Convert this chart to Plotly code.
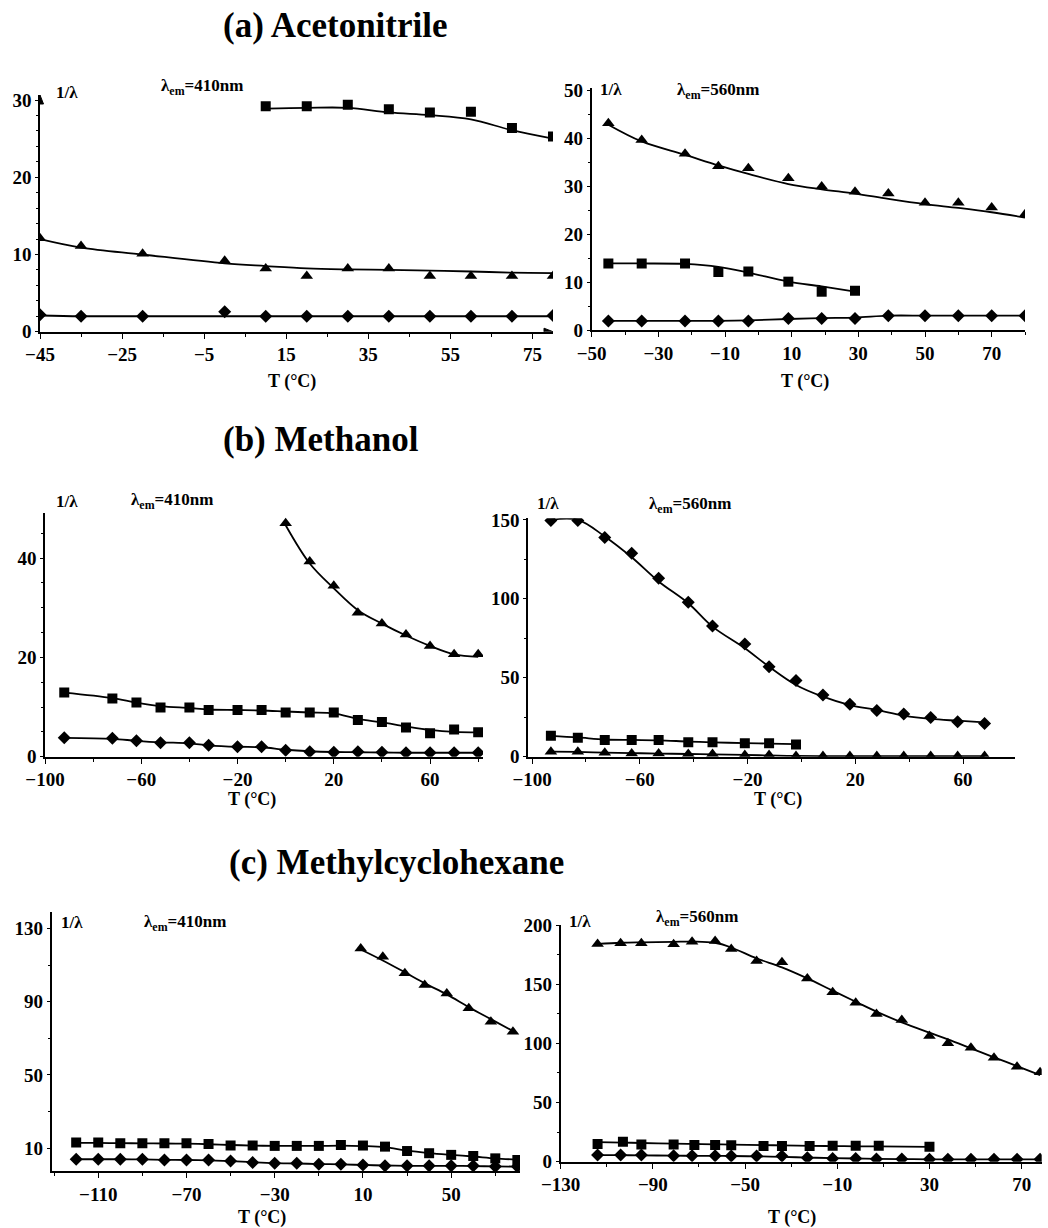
import plotly.graph_objects as go

# ---------------- DATA ----------------
# (a) Acetonitrile, lambda_em = 410 nm
AL_sq_x = [10, 20, 30, 40, 50, 60, 70, 80]
AL_sq_y = [29.2, 29.2, 29.4, 28.8, 28.4, 28.5, 26.4, 25.3]
AL_sq_fit = [28.9, 29.0, 29.0, 28.4, 28.05, 27.5, 26.1, 25.0]
AL_x = [-45, -35, -20, 0, 10, 20, 30, 40, 50, 60, 70, 80]
AL_tri_y = [12.1, 11.1, 10.1, 9.2, 8.2, 7.2, 8.2, 8.2, 7.2, 7.2, 7.2, 7.2]
AL_tri_fit = [12.0, 10.9, 10.0, 8.85, 8.5, 8.2, 8.07, 8.0, 7.9, 7.8, 7.65, 7.6]
AL_dia_y = [2.2, 2.0, 2.0, 2.6, 2.0, 2.0, 2.0, 2.0, 2.0, 2.0, 2.0, 2.1]
AL_dia_fit = [2.1, 2.0, 2.0, 2.0, 2.0, 2.0, 2.0, 2.0, 2.0, 2.0, 2.0, 2.0]

# (a) Acetonitrile, lambda_em = 560 nm
AR_x = [-45, -35, -22, -12, -3, 9, 19, 29, 39, 50, 60, 70, 80]
AR_tri_y = [43.2, 39.7, 36.8, 34.2, 33.8, 31.7, 30.0, 28.9, 28.5, 26.6, 26.6, 25.6, 24.2]
AR_tri_fit = [42.9, 39.4, 36.6, 34.4, 32.6, 30.5, 29.4, 28.5, 27.4, 26.3, 25.5, 24.6, 23.5]
AR_sq_x = [-45, -35, -22, -12, -3, 9, 19, 29]
AR_sq_y = [13.9, 13.9, 13.9, 12.1, 12.2, 10.1, 8.0, 8.2]
AR_sq_fit = [13.9, 13.9, 13.8, 13.2, 12.0, 10.1, 9.1, 8.0]
AR_dia_y = [1.9, 1.9, 1.9, 1.9, 1.9, 2.4, 2.4, 2.4, 3.0, 3.0, 3.0, 3.0, 3.0]
AR_dia_fit = [1.9, 1.9, 1.9, 1.9, 2.0, 2.3, 2.5, 2.6, 3.0, 3.0, 3.0, 3.0, 3.0]

# (b) Methanol, lambda_em = 410 nm
BL_tri_x = [0, 10, 20, 30, 40, 50, 60, 70, 80]
BL_tri_y = [47.0, 39.3, 34.4, 29.0, 26.8, 24.6, 22.3, 20.6, 20.6]
BL_tri_fit = [46.6, 38.9, 33.9, 29.5, 26.8, 24.4, 22.3, 20.6, 20.1]
BL_x = [-92, -72, -62, -52, -40, -32, -20, -10, 0, 10, 20, 30, 40, 50, 60, 70, 80]
BL_sq_y = [12.9, 11.7, 10.9, 9.9, 9.9, 9.4, 9.4, 9.4, 8.9, 8.9, 8.9, 7.4, 7.0, 5.9, 4.7, 5.5, 4.9]
BL_sq_fit = [12.9, 11.8, 10.9, 10.2, 9.8, 9.5, 9.4, 9.3, 9.1, 8.9, 8.7, 7.6, 6.9, 6.1, 5.4, 5.0, 4.9]
BL_dia_y = [3.8, 3.7, 3.2, 2.8, 2.8, 2.3, 2.0, 2.0, 1.3, 1.0, 0.9, 1.0, 0.9, 0.8, 0.8, 0.8, 0.8]
BL_dia_fit = [3.8, 3.6, 3.2, 2.9, 2.7, 2.3, 2.0, 1.9, 1.4, 1.1, 0.95, 0.9, 0.85, 0.8, 0.8, 0.8, 0.8]

# (b) Methanol, lambda_em = 560 nm
BR_x = [-93, -83, -73, -63, -53, -42, -33, -21, -12, -2, 8, 18, 28, 38, 48, 58, 68]
BR_dia_y = [149.6, 149.6, 138.8, 128.9, 113.0, 97.8, 82.8, 71.4, 57.0, 48.2, 39.1, 33.2, 29.2, 27.0, 24.9, 22.2, 21.1]
BR_dia_fit = [150.0, 150.0, 139.5, 126.3, 111.0, 97.2, 82.4, 68.7, 57.0, 45.4, 38.0, 32.7, 29.6, 26.0, 23.9, 22.8, 21.8]
BR_sq_x = [-93, -83, -73, -63, -53, -42, -33, -21, -12, -2]
BR_sq_y = [13.3, 12.0, 10.6, 10.6, 10.6, 9.1, 9.1, 8.5, 8.5, 7.8]
BR_sq_fit = [13.2, 12.2, 10.9, 10.6, 10.4, 9.6, 9.1, 8.6, 8.3, 8.0]
BR_tri_y = [3.2, 3.2, 2.5, 2.1, 2.1, 1.7, 1.7, 1.0, 1.0, 0.4, 0.4, 0.4, 0.4, 0.4, 0.4, 0.4, 0.4]
BR_tri_fit = [3.2, 3.0, 2.6, 2.3, 2.0, 1.7, 1.5, 1.1, 0.8, 0.5, 0.4, 0.4, 0.4, 0.4, 0.4, 0.4, 0.4]

# (c) Methylcyclohexane, lambda_em = 410 nm
CL_tri_x = [9, 19, 29, 38, 48, 58, 68, 78]
CL_tri_y = [119.0, 114.5, 105.5, 99.1, 94.5, 86.4, 79.1, 73.6]
CL_tri_fit = [118.5, 112.5, 106.0, 100.0, 94.0, 87.0, 80.5, 74.0]
CL_x = [-120, -110, -100, -90, -80, -70, -60, -50, -40, -30, -20, -10, 0, 10, 20, 30, 40, 50, 60, 70, 80]
CL_sq_y = [13.1, 13.1, 12.7, 12.7, 12.7, 12.7, 12.4, 11.5, 11.5, 11.3, 11.3, 11.3, 11.8, 11.5, 10.9, 8.5, 7.3, 6.4, 5.8, 4.5, 3.6]
CL_sq_fit = [13.0, 12.9, 12.8, 12.7, 12.6, 12.5, 12.2, 11.8, 11.5, 11.3, 11.3, 11.3, 11.4, 11.2, 10.6, 8.7, 7.4, 6.4, 5.5, 4.5, 3.8]
CL_dia_y = [4.0, 4.0, 4.0, 4.0, 3.6, 3.6, 3.6, 3.1, 2.2, 1.8, 1.8, 1.3, 1.3, 0.9, 0.4, 0.4, 0.4, 0.4, 0.4, 0.0, 0.0]
CL_dia_fit = [4.0, 4.0, 4.0, 3.9, 3.7, 3.6, 3.4, 3.0, 2.4, 1.9, 1.7, 1.4, 1.2, 0.9, 0.6, 0.4, 0.4, 0.4, 0.3, 0.1, 0.0]

# (c) Methylcyclohexane, lambda_em = 560 nm
CR_x = [-114, -104, -95, -81, -73, -63, -56, -45, -34, -23, -12, -2, 7, 18, 30, 38, 48, 58, 68, 78]
CR_tri_y = [184.0, 184.5, 184.5, 183.7, 185.9, 186.5, 179.7, 169.6, 168.5, 154.9, 143.1, 134.4, 124.8, 119.7, 106.2, 100.0, 96.3, 87.9, 80.3, 75.5]
CR_tri_fit = [184.0, 185.0, 185.4, 185.8, 186.0, 185.0, 181.0, 171.8, 164.2, 154.9, 144.5, 135.2, 126.8, 117.7, 109.0, 103.4, 95.8, 88.2, 80.8, 73.2]
CR_sq_x = [-114, -103, -95, -81, -72, -63, -56, -42, -34, -22, -12, -2, 8, 30]
CR_sq_y = [14.9, 16.9, 14.6, 14.6, 14.1, 14.1, 13.8, 13.2, 13.2, 13.2, 13.5, 13.5, 13.5, 12.7]
CR_sq_fit = [16.5, 16.2, 15.8, 15.3, 15.0, 14.7, 14.5, 14.0, 13.8, 13.4, 13.2, 13.0, 12.9, 12.5]
CR_dia_y = [5.6, 5.6, 5.6, 5.0, 5.0, 5.0, 4.8, 4.8, 4.8, 3.4, 2.8, 2.8, 2.3, 2.3, 2.0, 2.0, 2.0, 2.0, 2.0, 2.0]
CR_dia_fit = [5.6, 5.5, 5.4, 5.1, 5.0, 4.9, 4.8, 4.5, 4.1, 3.5, 3.0, 2.7, 2.4, 2.2, 2.0, 2.0, 2.0, 2.0, 2.0, 2.0]

TITLES = ["(a) Acetonitrile", "(b) Methanol", "(c) Methylcyclohexane"]
EM_LABELS = ["<b>λ<sub>em</sub>=410nm</b>", "<b>λ<sub>em</sub>=560nm</b>"]

# ---------------- LAYOUT / STYLE ----------------
W, H = 1048, 1228
FONT = "Liberation Serif"

def dx(px):
    return px / W

def dy(px):
    return 1 - px / H

panels = [
    dict(xd=(40, 553), yd=(95, 331.7), xr=[-45, 80], yr=[0, 30.66],
         xt0=-45, xdt=20, xm=10, yt0=0, ydt=10, ym=2,
         series=[(AL_sq_x, AL_sq_y, AL_sq_fit, "square"),
                 (AL_x, AL_tri_y, AL_tri_fit, "triangle-up"),
                 (AL_x, AL_dia_y, AL_dia_fit, "diamond")],
         lab1=(67, 92), lab2=(202, 87), em=0),
    dict(xd=(591.7, 1025), yd=(88.3, 330), xr=[-50, 80], yr=[0, 50.5],
         xt0=-50, xdt=20, xm=10, yt0=0, ydt=10, ym=5,
         series=[(AR_x, AR_tri_y, AR_tri_fit, "triangle-up"),
                 (AR_sq_x, AR_sq_y, AR_sq_fit, "square"),
                 (AR_x, AR_dia_y, AR_dia_fit, "diamond")],
         lab1=(611, 89), lab2=(718, 91), em=1),
    dict(xd=(45, 483), yd=(513.3, 756.7), xr=[-100, 82], yr=[0, 49],
         xt0=-100, xdt=40, xm=20, yt0=0, ydt=20, ym=5,
         series=[(BL_tri_x, BL_tri_y, BL_tri_fit, "triangle-up"),
                 (BL_x, BL_sq_y, BL_sq_fit, "square"),
                 (BL_x, BL_dia_y, BL_dia_fit, "diamond")],
         lab1=(67, 502), lab2=(172, 501), em=0),
    dict(xd=(528, 1015), yd=(518.3, 756.7), xr=[-101.5, 79.3], yr=[0, 151],
         xt0=-100, xdt=40, xm=20, yt0=0, ydt=50, ym=25,
         series=[(BR_x, BR_dia_y, BR_dia_fit, "diamond"),
                 (BR_sq_x, BR_sq_y, BR_sq_fit, "square"),
                 (BR_x, BR_tri_y, BR_tri_fit, "triangle-up")],
         lab1=(548, 503), lab2=(690, 505), em=1),
    dict(xd=(51.7, 520), yd=(911.7, 1171), xr=[-131.1, 81.2], yr=[-2.4, 139.1],
         xt0=-110, xdt=40, xm=20, yt0=10, ydt=40, ym=20,
         series=[(CL_tri_x, CL_tri_y, CL_tri_fit, "triangle-up"),
                 (CL_x, CL_sq_y, CL_sq_fit, "square"),
                 (CL_x, CL_dia_y, CL_dia_fit, "diamond")],
         lab1=(72, 922), lab2=(185, 923), em=0),
    dict(xd=(560.7, 1041.7), yd=(925, 1161.7), xr=[-130, 78.7], yr=[0, 200],
         xt0=-130, xdt=40, xm=20, yt0=0, ydt=50, ym=25,
         series=[(CR_x, CR_tri_y, CR_tri_fit, "triangle-up"),
                 (CR_sq_x, CR_sq_y, CR_sq_fit, "square"),
                 (CR_x, CR_dia_y, CR_dia_fit, "diamond")],
         lab1=(580, 921), lab2=(697, 918), em=1),
]

title_pos = [(335, 25), (321, 440), (396, 862)]
xtitle_pos = [(292, 381), (805, 381), (252, 799), (778, 799), (262, 1217), (792, 1217)]

marker_size = {"square": 10, "triangle-up": 11, "diamond": 10}

fig = go.Figure()
layout = {}
annotations = []

for i, p in enumerate(panels):
    k = "" if i == 0 else str(i + 1)
    xa, ya = "x" + k, "y" + k
    for (xs, ys, fit, sym) in p["series"]:
        fig.add_trace(go.Scatter(x=xs, y=fit, xaxis=xa, yaxis=ya, mode="lines",
                                 line=dict(color="black", width=1.8, shape="spline", smoothing=1.0),
                                 showlegend=False, hoverinfo="skip"))
        fig.add_trace(go.Scatter(x=xs, y=ys, xaxis=xa, yaxis=ya, mode="markers",
                                 marker=dict(symbol=sym, color="black", size=marker_size[sym]),
                                 showlegend=False))
    tf = dict(family=FONT, size=19, color="black", weight=700)
    layout["xaxis" + k] = dict(
        domain=[dx(p["xd"][0]), dx(p["xd"][1])], range=p["xr"], anchor=ya, automargin=False,
        showline=True, linecolor="black", linewidth=1.6, showgrid=False, zeroline=False,
        ticks="outside", ticklen=5, tickwidth=1.3, tickcolor="black",
        tick0=p["xt0"], dtick=p["xdt"], tickfont=tf, tickprefix="<b>", ticksuffix="</b>",
        minor=dict(ticks="outside", ticklen=3, tickwidth=1, tickcolor="black",
                   tick0=p["xt0"], dtick=p["xm"], showgrid=False),
    )
    layout["yaxis" + k] = dict(
        domain=[dy(p["yd"][1]), dy(p["yd"][0])], range=p["yr"], anchor=xa, automargin=False,
        showline=True, linecolor="black", linewidth=1.6, showgrid=False, zeroline=False,
        ticks="outside", ticklen=3, tickwidth=1.3, tickcolor="black",
        tick0=p["yt0"], dtick=p["ydt"], tickfont=tf, ticklabelstandoff=0,
        tickprefix="<b>", ticksuffix="</b>",
        minor=dict(ticks="outside", ticklen=2, tickwidth=1, tickcolor="black",
                   tick0=p["yt0"], dtick=p["ym"], showgrid=False),
    )
    lf = dict(family=FONT, size=17, color="black", weight=700)
    annotations.append(dict(text="<b>1/λ</b>", x=dx(p["lab1"][0]), y=dy(p["lab1"][1]),
                            xref="paper", yref="paper", showarrow=False, font=lf,
                            xanchor="center", yanchor="middle"))
    annotations.append(dict(text=EM_LABELS[p["em"]], x=dx(p["lab2"][0]), y=dy(p["lab2"][1]),
                            xref="paper", yref="paper", showarrow=False, font=lf,
                            xanchor="center", yanchor="middle"))
    xt = xtitle_pos[i]
    annotations.append(dict(text="<b>T (°C)</b>", x=dx(xt[0]), y=dy(xt[1]), xref="paper", yref="paper",
                            showarrow=False, xanchor="center", yanchor="middle",
                            font=dict(family=FONT, size=18, color="black", weight=700)))

for t, (tx, ty) in zip(TITLES, title_pos):
    annotations.append(dict(text="<b>" + t + "</b>", x=dx(tx), y=dy(ty), xref="paper", yref="paper",
                            showarrow=False, xanchor="center", yanchor="middle",
                            font=dict(family=FONT, size=35, color="black", weight=700)))

# axis arrowheads of panel (a) left, as small filled triangles
shapes = [
    dict(type="path", xref="x", yref="y", xsizemode="pixel", ysizemode="pixel",
         xanchor=-45, yanchor=30.66, path="M -3.5 -9 L 0 0 L 3.5 -9 Z",
         fillcolor="black", line=dict(color="black", width=1)),
    dict(type="path", xref="x", yref="y", xsizemode="pixel", ysizemode="pixel",
         xanchor=80, yanchor=0, path="M -9 -3.5 L 0 0 L -9 3.5 Z",
         fillcolor="black", line=dict(color="black", width=1)),
]

fig.update_layout(
    width=W, height=H, margin=dict(l=0, r=0, t=0, b=0, pad=0, autoexpand=False),
    paper_bgcolor="white", plot_bgcolor="white",
    annotations=annotations, shapes=shapes, showlegend=False, **layout,
)

fig.write_html("out.html")
